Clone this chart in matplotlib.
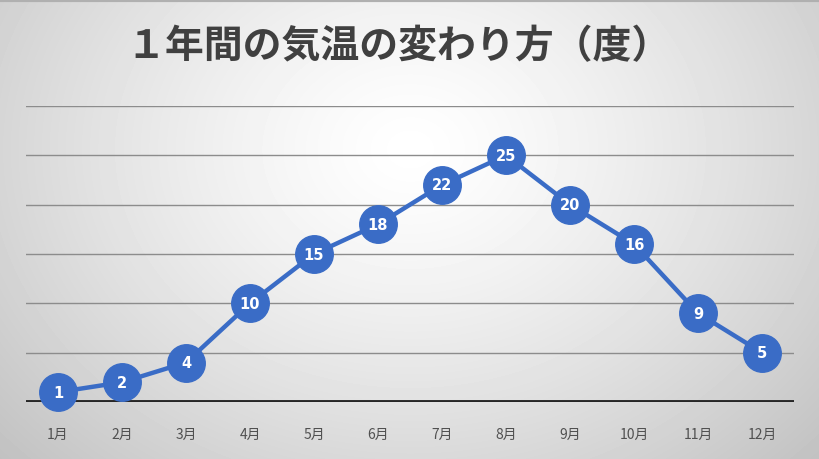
import numpy as np
import matplotlib
matplotlib.use("Agg")
import matplotlib.pyplot as plt

plt.rcParams["font.family"] = ["Noto Sans CJK JP", "DejaVu Sans"]

months = ["1月", "2月", "3月", "4月", "5月", "6月", "7月", "8月", "9月", "10月", "11月", "12月"]
temps = [1, 2, 4, 10, 15, 18, 22, 25, 20, 16, 9, 5]
title = "１年間の気温の変わり方（度）"
yticks = [5, 10, 15, 20, 25, 30]

fig = plt.figure(figsize=(8.19, 4.60), dpi=100)

# radial grey background
bg = fig.add_axes([0, 0, 1, 1]); bg.set_axis_off()
yy, xx = np.mgrid[0:460, 0:819]
r = np.sqrt(((xx - 410) / 520.0) ** 2 + ((yy - 150) / 420.0) ** 2)
shade = 1.0 - 0.22 * np.clip(r, 0, 1.2) ** 1.3
bg.imshow(shade, cmap="gray", vmin=0, vmax=1, aspect="auto", extent=[0, 1, 0, 1])
bg.axhline(0.997, color="#b0b0b0", lw=3)
bg.set_xlim(0, 1); bg.set_ylim(0, 1)

ax = fig.add_axes([26 / 819, 1 - 403 / 460, 768 / 819, 296 / 460])
ax.patch.set_alpha(0)
x = np.arange(len(months))
for v in yticks:
    ax.axhline(v, color="#8c8c8c", lw=1.0, zorder=1)
ax.axhline(0, color="#262626", lw=2.8, zorder=2)
ax.plot(x, temps, color="#3a6cc6", lw=3.2, marker="o", ms=27, mfc="#3a6cc6", mec="#3a6cc6", zorder=3, clip_on=False)
for xi, v in zip(x, temps):
    ax.text(xi, v, str(v), ha="center", va="center", color="white", fontsize=10.5, fontweight="bold", zorder=4, family=["DejaVu Sans"])
ax.set_xlim(-0.5, len(months) - 0.5)
ax.set_ylim(0, 30)
ax.set_xticks(x)
ax.set_xticklabels(months, color="#505050", fontsize=10)
ax.tick_params(axis="x", length=0, pad=18)
ax.set_yticks([])
for s in ax.spines.values():
    s.set_visible(False)

fig.text(0.487, 1 - 47 / 460, title, ha="center", va="center", fontsize=28, fontweight="bold", color="#404040")

fig.savefig("out.png", dpi=100)
